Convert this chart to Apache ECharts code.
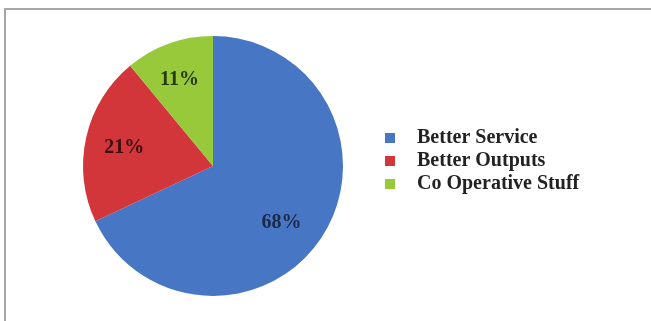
<!DOCTYPE html>
<html>
<head>
<meta charset="utf-8">
<script src="https://cdn.jsdelivr.net/npm/echarts@6/dist/echarts.min.js"></script>
<style>
html,body{margin:0;padding:0;background:#fff;}
#frame{position:absolute;left:4px;top:8px;width:660px;height:330px;border-left:2px solid #a8a8a8;border-top:2px solid #a8a8a8;}
#c{position:absolute;left:0;top:0;width:651px;height:321px;}
</style>
</head>
<body>
<div id="frame"></div>
<div id="c"></div>
<script>
const categories = ['Better Service', 'Better Outputs', 'Co Operative Stuff'];
const values = [68, 21, 11];
const colors = ['#4676c4', '#d2363b', '#97c93b'];
const labelColors = ['#1c2a4a', '#3a0f10', '#263a0c'];

const chart = echarts.init(document.getElementById('c'));
const font = '"Liberation Serif", "DejaVu Serif", serif';
const data = categories.map((n, i) => ({ name: n, value: values[i], itemStyle: { color: colors[i] } }));
const labelOffsets = [[-10, 7], [2, 2], [-2, 1]];
const labelData = categories.map((n, i) => ({
  name: n, value: values[i],
  itemStyle: { color: 'rgba(0,0,0,0)' },
  label: { color: labelColors[i], offset: labelOffsets[i] }
}));
chart.setOption({
  animation: false,
  legend: {
    orient: 'vertical',
    left: 385,
    top: 128,
    padding: 0,
    data: categories,
    icon: 'rect',
    itemWidth: 10,
    itemHeight: 10,
    itemGap: 3,
    textStyle: { fontFamily: font, fontWeight: 'bold', fontSize: 20, color: '#222', lineHeight: 20, padding: [0, 0, 0, 17] }
  },
  series: [
    {
      type: 'pie',
      center: [213, 166],
      radius: [0, 130],
      startAngle: 90,
      clockwise: true,
      label: { show: false },
      labelLine: { show: false },
      silent: true,
      data: data
    },
    {
      type: 'pie',
      center: [213, 166],
      radius: [80, 100],
      startAngle: 90,
      clockwise: true,
      silent: true,
      label: {
        show: true,
        position: 'inside',
        formatter: '{c}%',
        fontFamily: font,
        fontWeight: 'bold',
        fontSize: 20
      },
      labelLine: { show: false },
      data: labelData
    }
  ]
});
</script>
</body>
</html>
